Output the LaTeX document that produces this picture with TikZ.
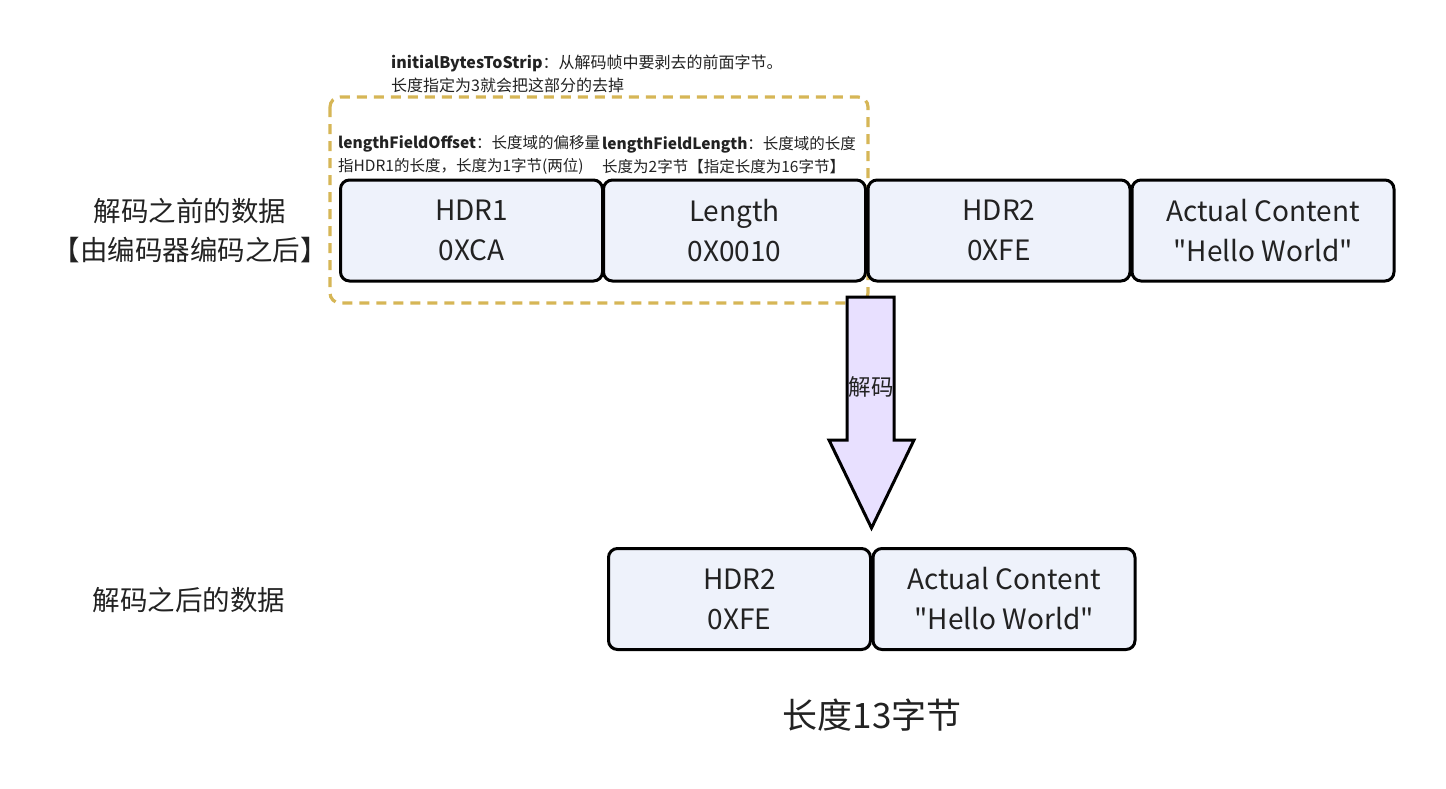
\documentclass[tikz,border=0pt]{standalone}
\usepackage{fontspec}
\setmainfont{Noto Sans CJK SC}
\newcommand\dq{\XeTeXglyph\XeTeXcharglyph"22\relax}
\definecolor{boxfill}{HTML}{EEF2FB}
\definecolor{txt}{HTML}{222222}
\definecolor{gold}{HTML}{D6B656}
\definecolor{lav}{HTML}{E8E0FF}
\tikzset{
  cell/.style={draw=black, line width=3pt, rounded corners=9pt, fill=boxfill,
    minimum width=262pt, minimum height=101pt, inner sep=0pt, align=center,
    text=txt, font=\fontsize{28}{40}\selectfont},
  side/.style={text=txt, font=\fontsize{27.5}{39}\selectfont, align=center},
  note/.style={text=txt, font=\fontsize{16}{23.5}\selectfont, align=left, anchor=west, inner sep=0pt},
  smallnote/.style={note, font=\fontsize{15.5}{23.5}\selectfont},
}
\begin{document}
\begin{tikzpicture}[x=1pt,y=-1pt]
\useasboundingbox (0,0) rectangle (1446,788);
% dashed region
\draw[gold, line width=3.2pt, dash pattern=on 10pt off 7pt, rounded corners=10pt] (330,97) rectangle (868,303);
% top row
\node[cell] (h1) at (471.5,230.5) {HDR1\\0XCA};
\node[cell] (len) at (734.5,230.5) {Length\\0X0010};
\node[cell] (h2) at (999,230.5) {HDR2\\0XFE};
\node[cell] (ac) at (1263,230.5) {Actual Content\\\dq Hello World\dq};
% arrow
\draw[line width=3pt, fill=lav, line join=miter] (847,297) -- (894,297) -- (894,440) -- (914,440) -- (871.5,528) -- (829,440) -- (847,440) -- cycle;
\node[text=txt, font=\fontsize{22.5}{26}\selectfont, inner sep=0pt] (dec) at (871,387) {解码};
% bottom row
\node[cell] (bh2) at (739.5,599) {HDR2\\0XFE};
\node[cell] (bac) at (1004,599) {Actual Content\\\dq Hello World\dq};
% side labels
\node[side] (before) at (190,231) {解码之前的数据\\【由编码器编码之后】};
\node[side] (after) at (189,600) {解码之后的数据};
\node[text=txt, font=\fontsize{35}{40}\selectfont] (total) at (872,715) {长度13字节};
% notes
\node[note] (n1) at (391,74) {\textbf{initialBytesToStrip}：从解码帧中要剥去的前面字节。\\长度指定为3就会把这部分的去掉};
\node[smallnote] (n2) at (338,155) {\textbf{lengthFieldOffset}：长度域的偏移量\\指HDR1的长度，长度为1字节(两位)};
\node[smallnote] (n3) at (602,155) {\textbf{lengthFieldLength}：长度域的长度\\长度为2字节【指定长度为16字节】};
\end{tikzpicture}
\end{document}
